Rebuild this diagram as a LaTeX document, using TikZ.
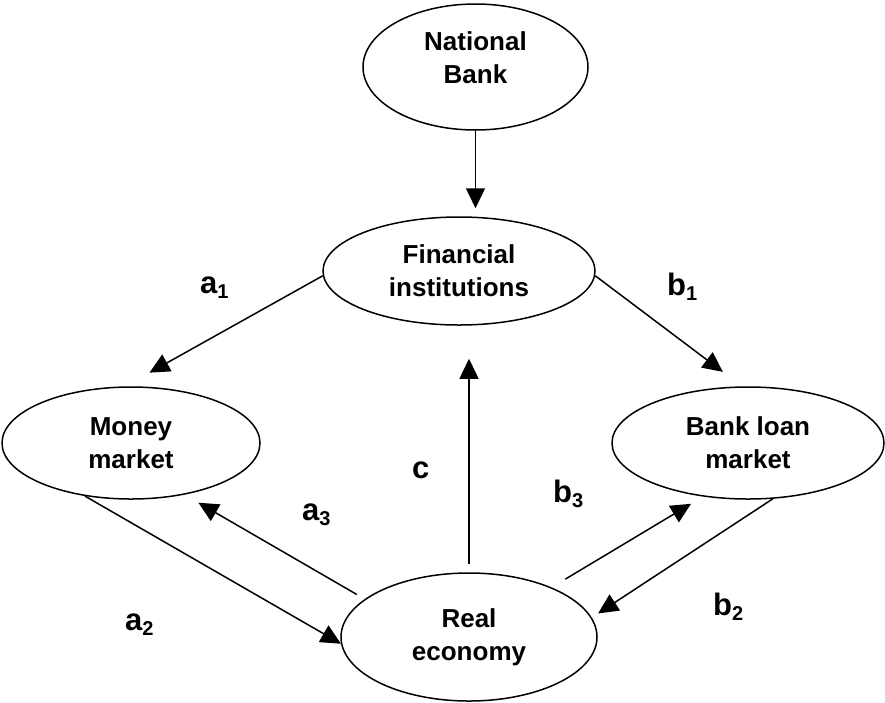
\documentclass[tikz,border=0pt]{standalone}
\usepackage{fontspec}
\setmainfont{Liberation Sans}
\usetikzlibrary{shapes.geometric,arrows.meta}
\tikzset{
  ell/.style={ellipse, draw, line width=1.5pt, inner sep=0pt, align=center,
    font=\fontsize{26}{33}\selectfont\bfseries},
  arr/.style={line width=1.5pt, -{Triangle[length=20pt,width=19pt]}},
  lab/.style={anchor=base west, inner sep=0pt, font=\fontsize{31}{31}\selectfont\bfseries}
}
\newcommand{\sub}[1]{\raisebox{-5pt}{\fontsize{20}{20}\selectfont #1}}
\begin{document}
\begin{tikzpicture}[x=1pt,y=-1pt]
\useasboundingbox (0,0) rectangle (885,702);
\node[ell, minimum width=225pt, minimum height=126pt, text depth=18pt] (nb) at (475.5,67) {National\\Bank};
\node[ell, minimum width=272pt, minimum height=108pt] (fi) at (459,271) {Financial\\institutions};
\node[ell, minimum width=258pt, minimum height=112pt] (mm) at (131,443) {Money\\market};
\node[ell, minimum width=272pt, minimum height=112pt] (blm) at (748,443) {Bank loan\\market};
\node[ell, minimum width=256pt, minimum height=128pt] (re) at (469,637) {Real\\economy};

\draw[arr, shorten >=8pt] (nb.south) -- (nb.south |- fi.north);
\draw[arr, shorten >=28pt] (fi.182) -- (mm.96);
\draw[arr, shorten >=24pt] (fi.358) -- (blm.96);
\draw[arr, shorten <=8pt, shorten >=33pt] (re.north) -- (re.north |- fi.south);
\draw[arr] (mm.229) -- (re.183);
\draw[arr, shorten <=9pt, shorten >=16pt] (re.160) -- (mm.316);
\draw[arr, shorten <=16pt, shorten >=14pt] (re.31.5) -- (blm.230.2);
\draw[arr, shorten >=7.5pt] (blm.294.4) -- (re.9);

\node[lab] (la1) at (200,293) {a\sub{1}};
\node[lab] (lb1) at (667,295) {b\sub{1}};
\node[lab] (lc) at (412,478) {c};
\node[lab] (la3) at (302,520) {a\sub{3}};
\node[lab] (lb3) at (553,502) {b\sub{3}};
\node[lab] (la2) at (125,630) {a\sub{2}};
\node[lab] (lb2) at (713,615) {b\sub{2}};
\end{tikzpicture}
\end{document}
